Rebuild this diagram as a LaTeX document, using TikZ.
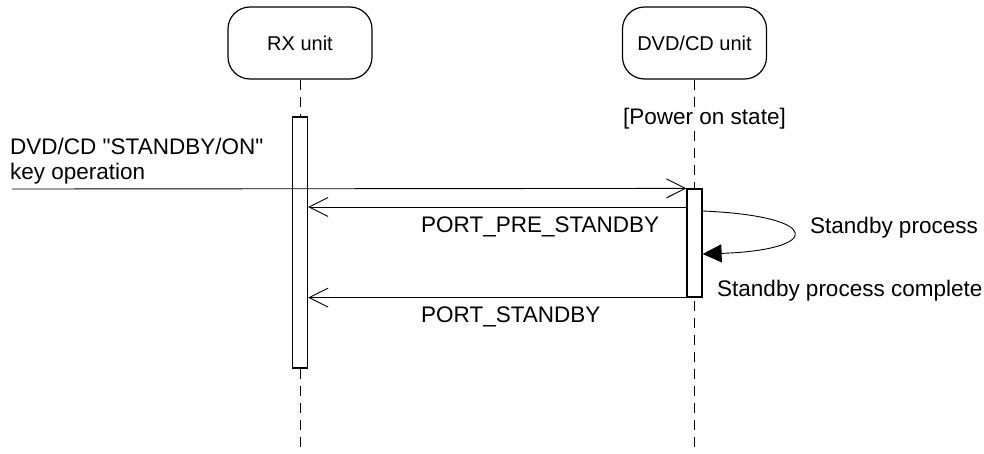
\documentclass[tikz,border=0pt]{standalone}
\usepackage{fontspec}
\setmainfont{Liberation Sans}
\usetikzlibrary{arrows.meta}

\tikzset{
    unitbox/.style={draw, line width=1.2pt, rounded corners=22pt, minimum width=144pt, minimum height=72pt, font=\fontsize{20}{24}\selectfont},
    actbox/.style={draw, line width=1.2pt, fill=white, minimum width=15pt, inner sep=0pt},
    lifeline/.style={line width=0.9pt, dash pattern=on 10pt off 7pt},
    msg/.style={line width=0.9pt, -{Straight Barb[length=19pt, width=19pt]}},
    txt/.style={anchor=base west, inner sep=0pt, font=\fontsize{22.5}{27}\selectfont}
}

\begin{document}
\begin{tikzpicture}[x=1pt, y=-1pt]
    \useasboundingbox (0,0) rectangle (984,453);
    % units
    \node[unitbox] (rx) at (300,43) {RX unit};
    \node[unitbox] (dvd) at (694.5,43) {DVD/CD unit};
    \coordinate (rxend) at (300,453);
    \coordinate (dvdend) at (694.5,453);
    \draw[lifeline] (rx) -- (rxend);
    \draw[lifeline] (dvd) -- (dvdend);
    % activations
    \node[actbox, minimum height=251pt] (rxact) at (300,242.5) {};
    \node[actbox, minimum height=108pt] (dvdact) at (694.5,243) {};
    \node[txt, fill=white] (powerstate) at (623,124) {[Power on state]};
    % key operation
    \coordinate (keyop) at (12,189);
    \node[txt] (keytext1) at (10,154) {DVD/CD \textquotedbl STANDBY/ON\textquotedbl};
    \node[txt] (keytext2) at (10,179) {key operation};
    \draw[msg] (keyop) -- (dvdact.north west);
    % messages
    \draw[msg] (dvdact.west |- 0,207) -- (rxact.east |- 0,207);
    \node[txt] (prestandby) at (421,232) {PORT\_PRE\_STANDBY};
    \draw[line width=0.9pt, -{Triangle[length=19pt, width=18pt]}] (dvdact.east |- 0,211) .. controls (823,216) and (823,250) .. (dvdact.east |- 0,254);
    \node[txt] (process) at (810,233) {Standby process};
    \node[txt] (complete) at (717,296) {Standby process complete};
    \draw[msg] (dvdact.south west) -- (rxact.east |- dvdact.south west);
    \node[txt] (standby) at (421,322) {PORT\_STANDBY};
\end{tikzpicture}
\end{document}
